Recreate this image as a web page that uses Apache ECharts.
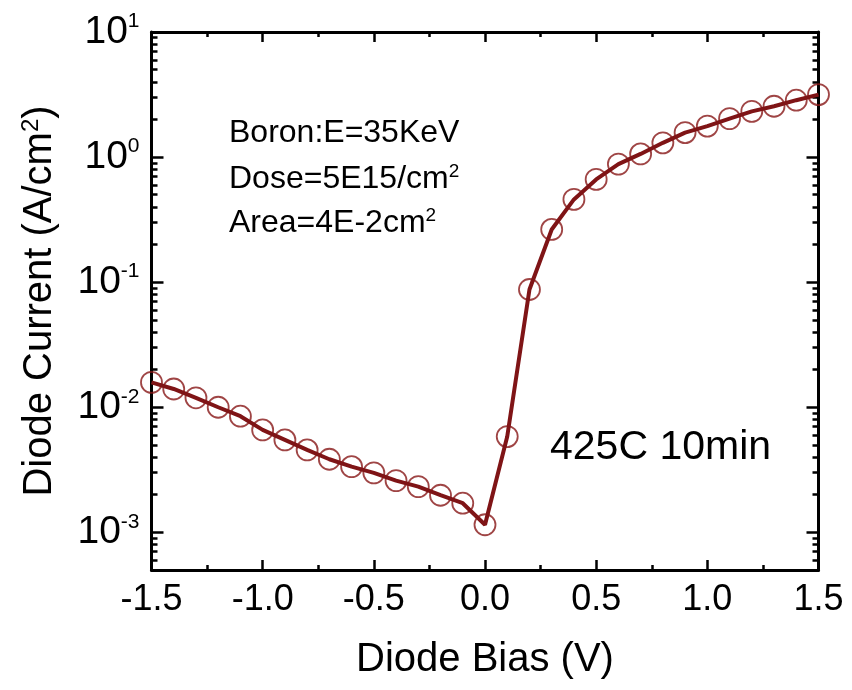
<!DOCTYPE html>
<html>
<head>
<meta charset="utf-8">
<script src="https://cdn.jsdelivr.net/npm/echarts@6/dist/echarts.min.js"></script>
<style>html,body{margin:0;padding:0;background:#fff}#c{width:852px;height:690px}</style>
</head>
<body>
<div id="c"></div>
<script>
// Data
const biasV = [-1.5,-1.4,-1.3,-1.2,-1.1,-1.0,-0.9,-0.8,-0.7,-0.6,-0.5,-0.4,-0.3,-0.2,-0.1,0.0,0.1,0.2,0.3,0.4,0.5,0.6,0.7,0.8,0.9,1.0,1.1,1.2,1.3,1.4,1.5];
const currentDensity = [0.0158,0.0140,0.0119,0.0100,0.00848,0.00659,0.00548,0.00456,0.00384,0.00335,0.00299,0.00259,0.00232,0.00198,0.00171,0.00115,0.00583,0.0874,0.264,0.459,0.663,0.879,1.06,1.30,1.57,1.77,2.03,2.32,2.55,2.85,3.16];
const xTickLabels = ['-1.5','-1.0','-0.5','0.0','0.5','1.0','1.5'];
const annotationLines = ['Boron:E=35KeV', 'Dose=5E15/cm', 'Area=4E-2cm'];
const conditionLabel = '425C 10min';
const xTitle = 'Diode Bias (V)';
const yTitle = 'Diode Current (A/cm';

const X_MIN = -1.5, X_MAX = 1.5, Y_MIN = 0.0005, Y_MAX = 10;
const FONT = 'Liberation Sans, Arial, sans-serif';
const RED = '#7f1416';

const pts = biasV.map((x, i) => [x, currentDensity[i]]);

function yLabel(v) {
  const e = Math.log10(v);
  const r = Math.round(e);
  if (Math.abs(e - r) > 1e-6) return '';
  return '{a|10}{s|' + r + '}';
}
function xLabel(v) {
  const idx = xTickLabels.indexOf(v.toFixed(1));
  return idx >= 0 ? xTickLabels[idx] : '';
}

const chart = echarts.init(document.getElementById('c'), null, {renderer: 'canvas'});
const axisLine = {show: true, onZero: false, lineStyle: {color: '#000', width: 3}};
const tickStyle = {color: '#000', width: 2.5};
chart.setOption({
  backgroundColor: '#fff',
  animation: false,
  textStyle: {fontFamily: FONT},
  grid: {left: 151.5, right: 33.5, top: 32, bottom: 120, containLabel: false},
  xAxis: [{
    type: 'value', min: X_MIN, max: X_MAX, interval: 0.5, position: 'bottom',
    axisLine: axisLine,
    axisTick: {show: true, inside: true, length: 10, lineStyle: tickStyle},
    minorTick: {show: true, splitNumber: 2, length: 5, lineStyle: tickStyle},
    splitLine: {show: false},
    axisLabel: {show: true, formatter: xLabel, fontSize: 36, color: '#000', margin: 12, fontFamily: FONT},
    name: xTitle, nameLocation: 'middle', nameGap: 70,
    nameTextStyle: {fontSize: 40, color: '#000', fontFamily: FONT}
  }, {
    type: 'value', min: X_MIN, max: X_MAX, interval: 0.5, position: 'top',
    axisLine: axisLine,
    axisTick: {show: true, inside: true, length: 10, lineStyle: tickStyle},
    minorTick: {show: true, splitNumber: 2, length: 5, lineStyle: tickStyle},
    splitLine: {show: false}, axisLabel: {show: false}
  }],
  yAxis: [{
    type: 'log', logBase: 10, min: Y_MIN, max: Y_MAX, position: 'left',
    axisLine: axisLine,
    axisTick: {show: true, inside: true, length: 12, lineStyle: tickStyle},
    minorTick: {show: true, splitNumber: 9, length: 6, lineStyle: tickStyle},
    splitLine: {show: false}, minorSplitLine: {show: false},
    axisLabel: {
      show: true, formatter: yLabel, margin: 12, showMinLabel: false, color: '#000',
      rich: {
        a: {fontSize: 39, fontFamily: FONT, color: '#000', lineHeight: 42},
        s: {fontSize: 21, fontFamily: FONT, color: '#000', verticalAlign: 'top', lineHeight: 22}
      }
    },
    name: yTitle + '{s|2})', nameLocation: 'middle', nameGap: 92, nameRotate: 90,
    nameTextStyle: {
      fontSize: 40, color: '#000', fontFamily: FONT,
      rich: {s: {fontSize: 24, fontFamily: FONT, color: '#000', verticalAlign: 'top', lineHeight: 24}}
    }
  }, {
    type: 'log', logBase: 10, min: Y_MIN, max: Y_MAX, position: 'right',
    axisLine: axisLine,
    axisTick: {show: true, inside: true, length: 12, lineStyle: tickStyle},
    minorTick: {show: true, splitNumber: 9, length: 6, lineStyle: tickStyle},
    splitLine: {show: false}, minorSplitLine: {show: false}, axisLabel: {show: false}
  }],
  series: [{
    type: 'scatter',
    data: pts,
    symbol: 'circle', symbolSize: 21,
    itemStyle: {color: 'rgba(0,0,0,0)', borderColor: '#871717', borderWidth: 1.8},
    z: 3
  }, {
    type: 'line',
    data: pts,
    showSymbol: false, symbol: 'none',
    lineStyle: {color: RED, width: 4},
    z: 4
  }],
  graphic: [
    {type: 'text', x: 229, y: 133, style: {text: annotationLines[0], font: '32px ' + FONT, fill: '#000', verticalAlign: 'middle'}},
    {type: 'text', x: 229, y: 179, style: {text: '{a|' + annotationLines[1] + '}{s|2}', fill: '#000', verticalAlign: 'middle',
      rich: {a: {fontSize: 32, fontFamily: FONT, lineHeight: 34}, s: {fontSize: 19, fontFamily: FONT, verticalAlign: 'top', lineHeight: 18}}}},
    {type: 'text', x: 229, y: 223, style: {text: '{a|' + annotationLines[2] + '}{s|2}', fill: '#000', verticalAlign: 'middle',
      rich: {a: {fontSize: 32, fontFamily: FONT, lineHeight: 34}, s: {fontSize: 19, fontFamily: FONT, verticalAlign: 'top', lineHeight: 18}}}},
    {type: 'text', x: 550, y: 448, style: {text: conditionLabel, font: '41px ' + FONT, fill: '#000', verticalAlign: 'middle'}}
  ]
});
</script>
</body>
</html>
